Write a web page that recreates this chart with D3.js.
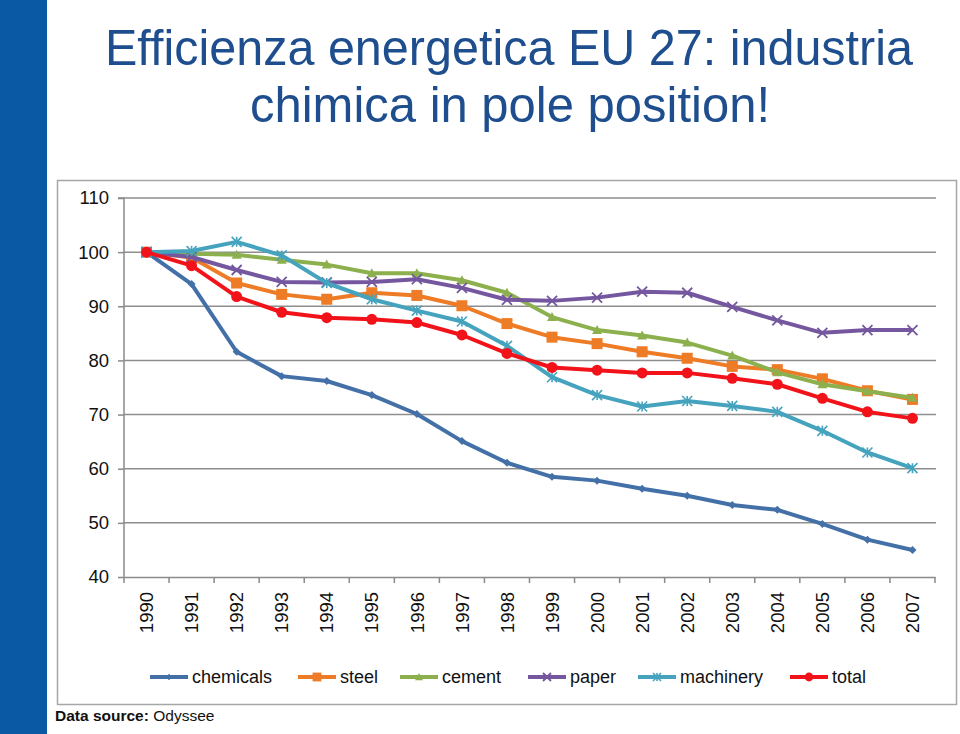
<!DOCTYPE html>
<html><head><meta charset="utf-8">
<script src="https://cdn.jsdelivr.net/npm/d3@7"></script>
<style>body{margin:0;background:#fff;}svg{display:block;font-family:"Liberation Sans",Arial,sans-serif;}</style>
</head><body>
<svg id="c" width="960" height="734"></svg>
<script>
const years = ["1990","1991","1992","1993","1994","1995","1996","1997","1998","1999","2000","2001","2002","2003","2004","2005","2006","2007"];
const chemicals = [100,94.1,81.6,77.1,76.2,73.6,70.1,65.1,61.1,58.5,57.8,56.3,55.0,53.3,52.4,49.8,46.9,45.0];
const steel = [100,99.0,94.3,92.2,91.3,92.5,92.0,90.1,86.8,84.3,83.1,81.6,80.4,78.9,78.3,76.6,74.4,72.8];
const cement = [100,99.7,99.5,98.6,97.7,96.1,96.1,94.8,92.5,88.0,85.6,84.6,83.3,80.9,77.8,75.6,74.3,73.1];
const paper = [100,99.1,96.7,94.5,94.4,94.5,95.0,93.4,91.2,91.0,91.6,92.7,92.5,89.9,87.4,85.1,85.6,85.6];
const machinery = [100,100.2,101.9,99.4,94.3,91.3,89.2,87.2,82.7,76.9,73.6,71.5,72.5,71.6,70.5,67.0,63.0,60.1];
const total = [100,97.5,91.8,88.9,87.9,87.6,87.0,84.7,81.3,78.7,78.2,77.7,77.7,76.7,75.6,73.0,70.5,69.3];
const yTicks = [40,50,60,70,80,90,100,110];
const seriesNames = ["chemicals","steel","cement","paper","machinery","total"];
const seriesColors = ["#4470A8","#EE7B25","#8DB04E","#7557A0","#45A3BE","#F2131A"];
const seriesMarkers = ["diamond","square","triangle","x","star","circle"];
const seriesData = [chemicals,steel,cement,paper,machinery,total];

const svg = d3.select("#c");
// left blue bar
svg.append("rect").attr("x",0).attr("y",0).attr("width",47).attr("height",734).attr("fill","#0A59A4");
// title
const title = svg.append("g").attr("fill","#1E4E8E").attr("font-size",50).attr("text-anchor","middle");
title.append("text").attr("x",509).attr("y",65).attr("textLength",808).attr("lengthAdjust","spacingAndGlyphs").text("Efficienza energetica EU 27: industria");
title.append("text").attr("x",510).attr("y",122).attr("textLength",520).attr("lengthAdjust","spacingAndGlyphs").text("chimica in pole position!");
// chart frame
svg.append("rect").attr("x",57.5).attr("y",180.5).attr("width",899).attr("height",524).attr("fill","#fff").attr("stroke","#A6A6A6").attr("stroke-width",1.5);

const x = d3.scaleBand().domain(years).range([124,935]);
const y = d3.scaleLinear().domain([40,110]).range([577,198]);

// gridlines
svg.append("g").selectAll("line").data(yTicks.filter(d=>d>40)).join("line")
  .attr("x1",124).attr("x2",936).attr("y1",d=>y(d)).attr("y2",d=>y(d))
  .attr("stroke","#8E8E8E").attr("stroke-width",1.5);

// y axis
const ya = svg.append("g").attr("transform","translate(124,0)").call(d3.axisLeft(y).tickValues(yTicks).tickSize(6).tickPadding(9));
ya.select(".domain").attr("stroke","#8A8A8A").attr("stroke-width",1.5).attr("d","M-6,"+y(110)+"H0V"+y(40));
ya.selectAll(".tick line").attr("stroke","#8A8A8A").attr("stroke-width",1.5);
ya.selectAll(".tick text").attr("font-size",18.5).attr("fill","#111").attr("font-family","Liberation Sans, Arial, sans-serif");

// x axis
const xa = svg.append("g").attr("transform","translate(0,577)").call(d3.axisBottom(x).tickSize(0));
xa.select(".domain").attr("stroke","#8A8A8A").attr("stroke-width",1.5);
xa.selectAll(".tick text").attr("font-size",18.5).attr("fill","#111").attr("font-family","Liberation Sans, Arial, sans-serif")
  .attr("transform","rotate(-90)").attr("text-anchor","end").attr("x",-15).attr("y",0).attr("dy","0.36em");
// boundary ticks
const bounds = years.map(d=>x(d)).concat([x.range()[1]]);
svg.append("g").selectAll("line").data(bounds).join("line")
  .attr("x1",d=>d).attr("x2",d=>d).attr("y1",577).attr("y2",583).attr("stroke","#8A8A8A").attr("stroke-width",1.5);

const cx = d => x(d) + x.bandwidth()/2;

function drawMarker(g, type, color, size) {
  const s = size;
  if (type==="diamond") g.append("path").attr("d",`M0,${-s}L${s},0L0,${s}L${-s},0Z`).attr("fill",color);
  else if (type==="square") g.append("rect").attr("x",-s).attr("y",-s).attr("width",2*s).attr("height",2*s).attr("fill",color);
  else if (type==="triangle") g.append("path").attr("d",`M0,${-s}L${s},${s*0.8}L${-s},${s*0.8}Z`).attr("fill",color);
  else if (type==="x") g.append("path").attr("d",`M${-s},${-s}L${s},${s}M${-s},${s}L${s},${-s}`).attr("stroke",color).attr("stroke-width",1.8);
  else if (type==="star") g.append("path").attr("d",`M${-s},${-s}L${s},${s}M${-s},${s}L${s},${-s}M0,${-s}V${s}`).attr("stroke",color).attr("stroke-width",1.6);
  else if (type==="circle") g.append("circle").attr("r",s).attr("fill",color);
}
const markerSize = [4,5.5,5,5,5,5.5];

const line = d3.line().x((d,i)=>cx(years[i])).y(d=>y(d));
seriesData.forEach((data,k)=>{
  svg.append("path").datum(data).attr("d",line).attr("fill","none")
    .attr("stroke",seriesColors[k]).attr("stroke-width",4).attr("stroke-linejoin","round");
  const mg = svg.append("g");
  data.forEach((v,i)=>{
    const g = mg.append("g").attr("transform",`translate(${cx(years[i])},${y(v)})`);
    drawMarker(g, seriesMarkers[k], seriesColors[k], markerSize[k]);
  });
});

// legend
const legendX = [150,298,400,528,638,790];
const lg = svg.append("g");
seriesNames.forEach((n,k)=>{
  const g = lg.append("g").attr("transform",`translate(${legendX[k]},677)`);
  g.append("line").attr("x1",0).attr("x2",38).attr("stroke",seriesColors[k]).attr("stroke-width",4);
  const m = g.append("g").attr("transform","translate(19,0)");
  drawMarker(m, seriesMarkers[k], seriesColors[k], markerSize[k]*0.8);
  g.append("text").attr("x",42).attr("y",0).attr("dy","0.36em").attr("font-size",18).attr("fill","#111").text(n);
});

// data source
const ds = svg.append("text").attr("x",55).attr("y",721).attr("font-size",15.5).attr("fill","#111");
ds.append("tspan").attr("font-weight","bold").text("Data source: ");
ds.append("tspan").text("Odyssee");
</script>
</body></html>
